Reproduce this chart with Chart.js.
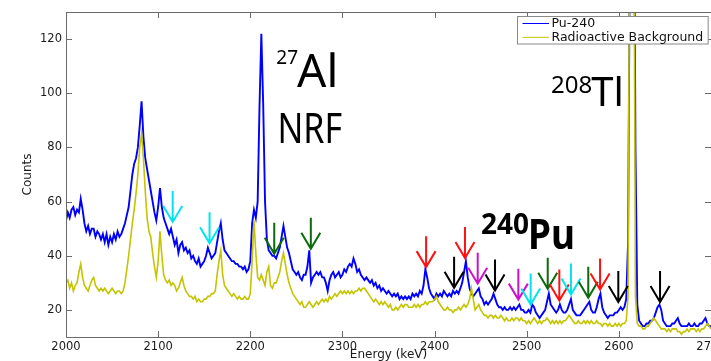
<!DOCTYPE html>
<html><head><meta charset="utf-8">
<script src="https://cdn.jsdelivr.net/npm/chart.js@4.4.0/dist/chart.umd.min.js"></script>
<style>html,body{margin:0;padding:0;background:#fff;overflow:hidden}#wrap{width:711px;height:361px;position:relative}</style>
</head><body><div id="wrap"><canvas id="c" width="711" height="361"></canvas></div>
<script>
// Spectrum bins: 2 keV wide, starting at 2000 keV
const binStartKeV = 2000;
const binWidthKeV = 2;

const pu240Counts = [
53,56,54,57,58,55,57,56,61,57,52,49,51,48,50,50,47,49,48,46,
48,45,48,44,47,45,48,46,49,47,48,50,52,55,58,64,70,74,76,80,
88,97,84,76,72,68,64,60,56,53,58,65,58,54,52,50,48,50,47,44,
46,41,44,45,42,43,41,42,39,40,38,37,39,36,37,38,40,43,41,39,
40,41,45,49,52,46,42,41,40,39,38,38,37,37,36,36,35,36,34,35,
38,52,57,54,60,95,122,96,60,46,42,41,40,40,39,41,43,47,51,47,
43,41,38,35,34,33,34,32,31,33,33,36,42,30,32,33,34,33,34,32,
32,30,27,31,33,34,32,33,34,32,33,35,34,36,37,36,39,37,34,35,
33,32,31,32,31,30,31,29,30,28,29,27,28,27,26,27,26,25,26,25,
26,24,25,24,25,24,25,24,26,25,26,25,27,26,29,35,32,28,26,25,
24,26,25,26,25,27,26,25,26,25,27,26,27,26,28,30,34,38,32,28,
26,25,26,27,28,25,24,22,23,22,23,24,26,24,22,21,21,20,21,20,
20,21,20,21,20,21,22,20,20,19,19,20,19,22,21,19,18,17,18,19,
20,23,26,22,21,20,19,20,22,20,19,19,20,22,24,20,19,18,18,18,
19,20,21,22,23,20,19,19,21,24,26,21,19,18,17,18,18,18,19,19,
20,21,20,21,24,45,160,300,220,80,22,16,15,14,14,15,15,16,16,17,
19,21,22,20,16,15,14,14,14,15,15,16,17,15,14,14,14,14,15,14,
14,15,14,14,15,15,16,17,15,14,14
];

const backgroundCounts = [
30,31,28,30,27,29,30,34,37,32,29,28,27,29,31,32,29,28,27,28,
27,28,27,26,27,28,27,26,27,27,26,27,30,35,40,46,52,57,63,70,
80,85,76,64,54,49,47,41,36,32,38,49,40,33,31,30,31,29,30,29,
27,28,30,32,29,27,26,25,25,24,25,23,24,23,23,24,24,25,25,26,
26,27,33,38,42,33,29,28,27,26,25,26,25,24,25,24,24,25,24,24,
26,38,53,41,32,31,33,31,29,34,36,29,28,30,30,32,34,38,41,37,
33,30,28,26,25,24,23,22,23,21,21,22,23,22,21,22,23,22,23,24,
23,24,23,25,24,25,26,25,26,27,26,27,26,27,26,27,26,27,27,28,
27,28,28,27,26,25,24,23,24,23,22,23,22,23,22,21,22,20,20,21,
20,21,22,21,22,22,21,21,21,22,21,22,21,22,22,23,22,23,23,23,
24,25,23,22,21,20,20,21,20,20,19,20,20,21,20,21,22,21,22,24,
28,24,20,21,22,20,19,18,18,17,18,18,17,18,17,17,18,17,16,17,
16,16,17,16,17,17,16,17,16,16,15,16,15,16,17,16,15,16,15,16,
16,17,16,15,16,15,16,15,16,15,16,16,17,18,17,16,15,15,16,15,
15,16,15,16,15,16,15,15,16,15,15,14,15,15,14,15,14,14,15,14,
15,14,15,15,16,25,200,450,200,25,15,14,14,13,13,14,14,15,16,17,
16,15,14,13,13,13,12,13,12,13,13,13,12,12,11,12,12,13,12,13,
13,13,12,13,12,13,13,14,15,14,13
];

const energyTicks = [2000, 2100, 2200, 2300, 2400, 2500, 2600, 2700];
const countTicks = [20, 40, 60, 80, 100, 120];
const seriesLabels = ['Pu-240', 'Radioactive Background'];

// Peak-marker arrows (tip position in keV / counts)
const arrowEnergy = [2115.8, 2155.8, 2226, 2265.7, 2390.8, 2421.2, 2433, 2446.8, 2465.6, 2490.9, 2504.3, 2522.8, 2535.4, 2548, 2566.8, 2579.6, 2599.4, 2644.7];
const arrowCounts = [52.5, 44.6, 40.7, 42.6, 35.8, 28.2, 39.2, 29.7, 27.2, 23.8, 22, 27.8, 23.5, 25.7, 24.5, 27.5, 22.9, 22.9];
const arrowKind = ['cyan','cyan','green','green','red','black','red','magenta','black','magenta','cyan','green','red','cyan','green','red','black','black'];

// Annotation texts (main text left edge keV, baseline counts)
const noteSup = ['27', '', '208', '240'];
const noteMain = ['Al', 'NRF', 'Tl', 'Pu'];
const noteEnergy = [2250.7, 2229.5, 2570, 2501.5];
const noteCounts = [102.3, 81.8, 95.3, 42.6];

const energyKeV = pu240Counts.map((_, i) => binStartKeV + i * binWidthKeV);
const toPoints = arr => arr.map((v, i) => ({x: energyKeV[i], y: v}));

const arrowPalette = {cyan: '#00e4ee', green: '#0b6a0b', red: '#ff1111', magenta: '#cc11cc', black: '#000000'};
const noteStyle = [
  {size: 46, supSize: 19, raise: 23, bold: false, sx: 1},
  {size: 42, supSize: 0, raise: 0, bold: false, sx: 0.81},
  {size: 40, supSize: 24, raise: 13, bold: false, sx: 1},
  {size: 42, supSize: 28, raise: 15, bold: true, sx: 0.88}
];

const overlay = {
  id: 'overlay',
  afterDraw(chart) {
    const {ctx, chartArea: a, scales: {x, y}} = chart;
    ctx.save();
    // axes box
    ctx.strokeStyle = '#6a6a6a';
    ctx.lineWidth = 1;
    ctx.beginPath();
    ctx.moveTo(a.left + 0.5, a.top + 0.5); ctx.lineTo(a.left + 0.5, a.bottom + 0.5); ctx.lineTo(a.right + 0.5, a.bottom + 0.5);
    ctx.moveTo(a.left + 0.5, a.top + 0.5); ctx.lineTo(a.right + 0.5, a.top + 0.5); ctx.lineTo(a.right + 0.5, a.bottom + 0.5);
    x.ticks.forEach(t => {
      const px = Math.round(x.getPixelForValue(t.value)) + 0.5;
      ctx.moveTo(px, a.bottom); ctx.lineTo(px, a.bottom - 6);
      ctx.moveTo(px, a.top); ctx.lineTo(px, a.top + 6);
    });
    y.ticks.forEach(t => {
      const py = Math.round(y.getPixelForValue(t.value)) + 0.5;
      ctx.moveTo(a.left, py); ctx.lineTo(a.left + 6, py);
      ctx.moveTo(a.right, py); ctx.lineTo(a.right - 6, py);
    });
    ctx.stroke();

    // arrows
    ctx.lineWidth = 2;
    ctx.lineCap = 'butt';
    ctx.lineJoin = 'miter';
    arrowEnergy.forEach((e, i) => {
      const px = x.getPixelForValue(e);
      const tip = y.getPixelForValue(arrowCounts[i]);
      ctx.strokeStyle = arrowPalette[arrowKind[i]];
      ctx.beginPath();
      ctx.moveTo(px, tip - 31); ctx.lineTo(px, tip - 1);
      ctx.moveTo(px - 9.5, tip - 16); ctx.lineTo(px, tip); ctx.lineTo(px + 9.5, tip - 16);
      ctx.stroke();
    });

    // annotation texts
    ctx.fillStyle = '#000';
    ctx.textBaseline = 'alphabetic';
    noteMain.forEach((txt, i) => {
      const st = noteStyle[i];
      const px = x.getPixelForValue(noteEnergy[i]);
      const py = y.getPixelForValue(noteCounts[i]);
      const w = st.bold ? 'bold ' : '';
      ctx.save();
      ctx.translate(px, py);
      ctx.font = w + st.size + 'px "Noto Sans"';
      ctx.textAlign = 'left';
      ctx.save();
      ctx.scale(st.sx, 1);
      ctx.fillText(txt, 0, 0);
      ctx.restore();
      if (noteSup[i]) {
        ctx.font = w + st.supSize + 'px "Noto Sans"';
        ctx.textAlign = 'right';
        ctx.fillText(noteSup[i], 1, -st.raise);
      }
      ctx.restore();
    });

    // legend
    ctx.font = '12.5px "DejaVu Sans"';
    const labels = chart.data.datasets.map(d => d.label);
    const tw = Math.max(...labels.map(l => ctx.measureText(l).width));
    const bw = 34 + tw + 5, bh = 27.5;
    const bx = Math.round(a.right - 3 - bw) + 0.5, by = a.top + 4.5;
    ctx.fillStyle = '#fff';
    ctx.fillRect(bx, by, bw, bh);
    ctx.strokeStyle = '#8a8a8a';
    ctx.lineWidth = 1;
    ctx.strokeRect(bx, by, bw, bh);
    ctx.textAlign = 'left';
    ctx.textBaseline = 'middle';
    chart.data.datasets.forEach((d, i) => {
      const ry = by + 7 + i * 13.8;
      ctx.strokeStyle = d.borderColor;
      ctx.lineWidth = 1;
      ctx.beginPath(); ctx.moveTo(bx + 5, ry); ctx.lineTo(bx + 31.5, ry); ctx.stroke();
      ctx.fillStyle = '#111';
      ctx.fillText(d.label, bx + 34, ry + 0.5);
    });
    ctx.restore();
  }
};

new Chart(document.getElementById('c'), {
  type: 'line',
  data: {
    datasets: [
      {label: seriesLabels[0], data: toPoints(pu240Counts), borderColor: '#0000ff', borderWidth: 1.9, pointRadius: 0, tension: 0, order: 1, clip: 0},
      {label: seriesLabels[1], data: toPoints(backgroundCounts), borderColor: '#c4c400', borderWidth: 1.6, pointRadius: 0, tension: 0, order: 0, clip: 0}
    ]
  },
  options: {
    responsive: false,
    animation: false,
    events: [],
    layout: {padding: {top: 12, left: 0, right: 0, bottom: 0}},
    plugins: {legend: {display: false}, tooltip: {enabled: false}},
    scales: {
      x: {
        type: 'linear', min: 2000, max: 2700,
        grid: {display: false, drawTicks: false},
        border: {display: false},
        ticks: {padding: 3, color: '#1a1a1a', font: {family: 'DejaVu Sans', size: 11.5}, maxRotation: 0, autoSkip: false, callback: v => String(v)},
        afterBuildTicks: s => { s.ticks = energyTicks.map(v => ({value: v})); },
        afterFit: s => { s.height = 24; s.paddingLeft = 0; s.paddingRight = 0; },
        title: {display: true, text: 'Energy (keV)', color: '#1a1a1a', font: {family: 'DejaVu Sans', size: 12}, padding: {top: 0, bottom: -1.2}}
      },
      y: {
        type: 'linear', min: 10, max: 130,
        grid: {display: false, drawTicks: false},
        border: {display: false},
        ticks: {padding: 4, color: '#1a1a1a', font: {family: 'DejaVu Sans', size: 11.5}, callback: v => String(v)},
        afterBuildTicks: s => { s.ticks = countTicks.map(v => ({value: v})); },
        afterFit: s => { s.width = 66; s.paddingTop = 0; s.paddingBottom = 0; },
        title: {display: true, text: 'Counts', color: '#1a1a1a', font: {family: 'DejaVu Sans', size: 12}, padding: {top: 20.8, bottom: 0}}
      }
    }
  },
  plugins: [overlay]
});
</script>
</body></html>
